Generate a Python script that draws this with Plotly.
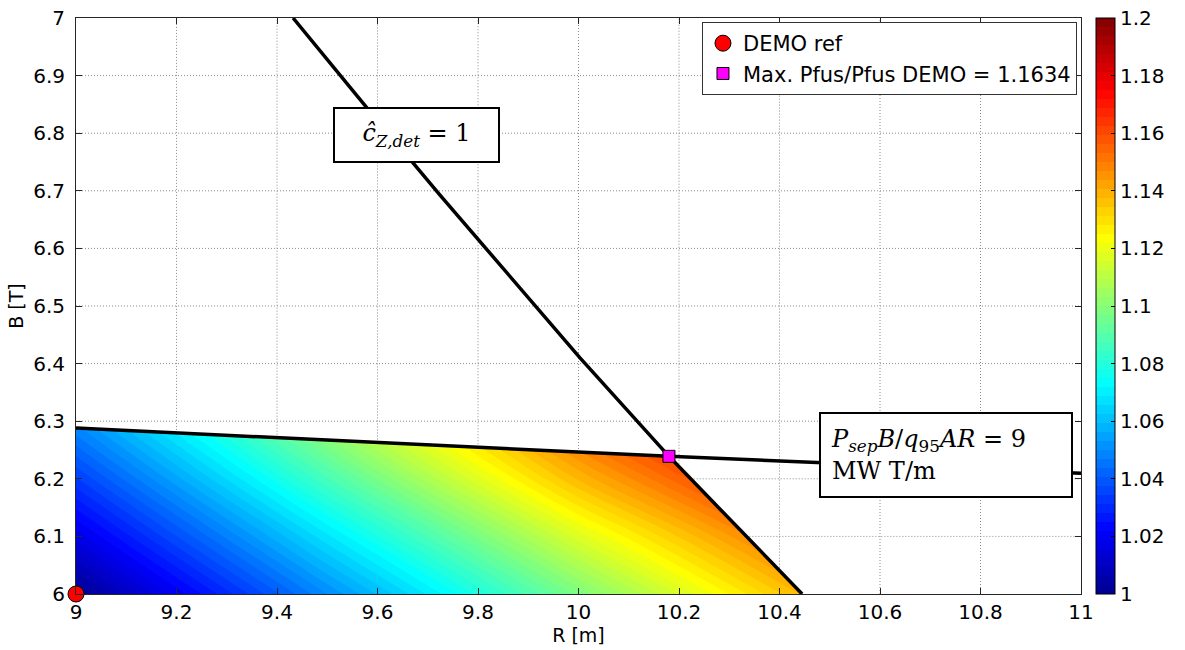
import numpy as np
import plotly.graph_objects as go

# ---- data ----
grid_R = [9.0, 9.5, 10.0, 10.5]
grid_B = [6.0, 6.1, 6.2, 6.3]
pfus_ratio = [
    [1.000, 1.050, 1.098, 1.143],
    [1.017, 1.068, 1.117, 1.161],
    [1.034, 1.087, 1.138, 1.180],
    [1.051, 1.105, 1.156, 1.198],
]

cz_R = [9.432, 9.579, 9.724, 10.003, 10.180, 10.445]
cz_B = [7.0, 6.844, 6.693, 6.410, 6.239, 6.0]

psep_R = [9.0, 10.18, 11.0]
psep_B = [6.288, 6.239, 6.2095]

demo_R = [9.0]
demo_B = [6.0]
max_R = [10.18]
max_B = [6.239]

x_ticks = [9.0, 9.2, 9.4, 9.6, 9.8, 10.0, 10.2, 10.4, 10.6, 10.8, 11.0]
x_labels = ["9", "9.2", "9.4", "9.6", "9.8", "10", "10.2", "10.4", "10.6", "10.8", "11"]
y_ticks = [6.0, 6.1, 6.2, 6.3, 6.4, 6.5, 6.6, 6.7, 6.8, 6.9, 7.0]
y_labels = ["6", "6.1", "6.2", "6.3", "6.4", "6.5", "6.6", "6.7", "6.8", "6.9", "7"]
c_ticks = [1.0, 1.02, 1.04, 1.06, 1.08, 1.1, 1.12, 1.14, 1.16, 1.18, 1.2]
c_labels = ["1", "1.02", "1.04", "1.06", "1.08", "1.1", "1.12", "1.14", "1.16", "1.18", "1.2"]

jet = [
    [0.0, "rgb(0,0,143)"],
    [0.111, "rgb(0,0,255)"],
    [0.365, "rgb(0,255,255)"],
    [0.619, "rgb(255,255,0)"],
    [0.873, "rgb(255,0,0)"],
    [1.0, "rgb(128,0,0)"],
]

FONT = "DejaVu Sans"
xr = [x_ticks[0], x_ticks[-1]]
yr = [y_ticks[0], y_ticks[-1]]

fig = go.Figure()

# filled contour field
fig.add_trace(go.Contour(
    x=grid_R, y=grid_B, z=pfus_ratio,
    colorscale=jet, zmin=c_ticks[0], zmax=c_ticks[-1],
    autocontour=False,
    contours=dict(start=c_ticks[0], end=c_ticks[-1], size=(c_ticks[-1] - c_ticks[0]) / 64,
                  coloring="fill", showlines=False),
    line=dict(width=0),
    showlegend=False, hoverinfo="skip",
    colorbar=dict(
        x=1.0149, xanchor="left", xpad=0, y=0.5, yanchor="middle", ypad=0,
        len=1.0, lenmode="fraction", thickness=19,
        outlinewidth=1, outlinecolor="black",
        tickvals=c_ticks, ticktext=c_labels, ticks="inside", ticklen=4, tickcolor="black",
        ticklabeloverflow="allow",
        tickfont=dict(family=FONT, size=20, color="black"),
    ),
))

# white masks outside the feasible region
fig.add_trace(go.Scatter(
    x=psep_R + [xr[1], xr[0]], y=psep_B + [yr[1], yr[1]],
    fill="toself", fillcolor="white", mode="lines", line=dict(width=0, color="white"),
    showlegend=False, hoverinfo="skip"))
fig.add_trace(go.Scatter(
    x=cz_R + [xr[1], xr[1]], y=cz_B + [yr[0], yr[1]],
    fill="toself", fillcolor="white", mode="lines", line=dict(width=0, color="white"),
    showlegend=False, hoverinfo="skip"))

# dotted grid (only outside the coloured region)
gx, gy = [], []
for r in x_ticks[1:-1]:
    b0 = min(np.interp(r, psep_R, psep_B), np.interp(r, cz_R, cz_B))
    gx += [r, r, None]
    gy += [b0, yr[1], None]
for b in y_ticks[1:-1]:
    if b >= max(psep_B):
        gx += [xr[0], xr[1], None]
    else:
        r0 = float(np.interp(b, cz_B[::-1], cz_R[::-1]))
        gx += [r0, xr[1], None]
    gy += [b, b, None]
fig.add_trace(go.Scatter(
    x=gx, y=gy, mode="lines", line=dict(color="#8c8c8c", width=1, dash="1px,2px"),
    showlegend=False, hoverinfo="skip"))

# boundary lines
fig.add_trace(go.Scatter(x=cz_R, y=cz_B, mode="lines", line=dict(color="black", width=3.5),
                         showlegend=False, hoverinfo="skip"))
fig.add_trace(go.Scatter(x=psep_R, y=psep_B, mode="lines", line=dict(color="black", width=3.5),
                         showlegend=False, hoverinfo="skip"))

# markers
fig.add_trace(go.Scatter(x=demo_R, y=demo_B, mode="markers", name="DEMO ref", cliponaxis=False,
                         marker=dict(symbol="circle", size=16, color="red", line=dict(color="black", width=1))))
fig.add_trace(go.Scatter(x=max_R, y=max_B, mode="markers", name="Max. Pfus/Pfus DEMO = 1.1634", cliponaxis=False,
                         marker=dict(symbol="square", size=12, color="magenta", line=dict(color="black", width=1))))

# text boxes
fig.add_annotation(
    x=9.677, y=6.797, xref="x", yref="y", showarrow=False,
    text="<i>ĉ</i><sub><i>Z,det</i></sub> = 1",
    font=dict(family="DejaVu Serif", size=24, color="black"),
    bgcolor="white", bordercolor="black", borderwidth=2, borderpad=1,
    width=161, height=50)
fig.add_annotation(
    x=10.731, y=6.241, xref="x", yref="y", showarrow=False,
    text="<i>P</i><sub><i>sep</i></sub><i>B</i>/<i>q</i><sub>95</sub><i>AR</i> = 9<br>MW T/m",
    align="left",
    font=dict(family="DejaVu Serif", size=24, color="black"),
    bgcolor="white", bordercolor="black", borderwidth=2, borderpad=10,
    width=230, height=62)

axis_font = dict(family=FONT, size=20, color="black")
fig.update_xaxes(
    range=xr, tickvals=x_ticks, ticktext=x_labels, showgrid=False, zeroline=False,
    showline=True, linecolor="#262626", linewidth=1, mirror="ticks",
    ticks="inside", ticklen=6, tickcolor="#262626", tickfont=axis_font,
    ticklabeloverflow="allow",
    title=dict(text="R [m]", font=dict(family=FONT, size=19, color="black"), standoff=2),
)
fig.update_yaxes(
    range=yr, tickvals=y_ticks, ticktext=y_labels, showgrid=False, zeroline=False,
    showline=True, linecolor="#262626", linewidth=1, mirror="ticks",
    ticks="inside", ticklen=6, tickcolor="#262626", tickfont=axis_font,
    ticklabelstandoff=6, ticklabeloverflow="allow",
    title=dict(text="B [T]", font=dict(family=FONT, size=19, color="black"), standoff=4),
)

fig.update_layout(
    width=1185, height=650,
    margin=dict(l=76, r=104, t=18, b=56, autoexpand=False),
    paper_bgcolor="white", plot_bgcolor="white",
    legend=dict(x=0.996, xanchor="right", y=0.993, yanchor="top",
                bgcolor="white", bordercolor="#333333", borderwidth=1,
                font=dict(family=FONT, size=21, color="black"),
                itemwidth=30, tracegroupgap=0),
)

# remove the page's default body margin so the figure fills the window exactly
fig.write_html("out.html", config={"displayModeBar": False},
               post_script="document.body.style.margin='0px';")
